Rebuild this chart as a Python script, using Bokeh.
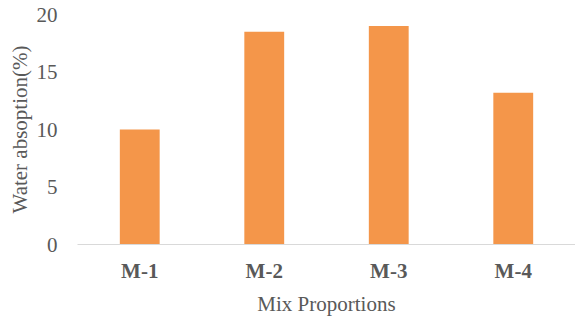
from bokeh.plotting import figure
from bokeh.models import Range1d, FactorRange, FixedTicker, ColumnDataSource
from bokeh.embed import file_html
from bokeh.resources import INLINE

categories = ["M-1", "M-2", "M-3", "M-4"]
water_absorption = [10.0, 18.5, 19.0, 13.2]
y_ticks = [0, 5, 10, 15, 20]

FONT = "Liberation Serif"
TEXT = "#595959"

src = ColumnDataSource(dict(cat=categories, val=water_absorption))

p = figure(width=575, height=321, output_backend="svg", toolbar_location=None,
           x_range=FactorRange(*categories, range_padding=0),
           y_range=Range1d(0, 20),
           min_border_left=77, min_border_right=0, min_border_top=14, min_border_bottom=77)

p.vbar(x="cat", top="val", width=0.32, source=src, color="#F4964A", line_color=None)

p.outline_line_color = None
p.xgrid.grid_line_color = None
p.ygrid.grid_line_color = None

p.yaxis.ticker = FixedTicker(ticks=y_ticks)
p.yaxis.axis_line_color = None
p.yaxis.major_tick_line_color = None
p.yaxis.minor_tick_line_color = None
p.yaxis.major_label_standoff = 14
p.yaxis.major_label_text_font = FONT
p.yaxis.major_label_text_font_size = "21px"
p.yaxis.major_label_text_color = TEXT
p.yaxis.axis_label = "Water absoption(%)"
p.yaxis.axis_label_text_font = FONT
p.yaxis.axis_label_text_font_size = "21px"
p.yaxis.axis_label_text_font_style = "normal"
p.yaxis.axis_label_text_color = TEXT
p.yaxis.axis_label_standoff = 2

p.xaxis.axis_line_color = "#D9D9D9"
p.xaxis.axis_line_width = 1
p.xaxis.major_tick_line_color = None
p.xaxis.minor_tick_line_color = None
p.xaxis.major_label_standoff = 8
p.xaxis.major_label_text_font = FONT
p.xaxis.major_label_text_font_size = "21px"
p.xaxis.major_label_text_font_style = "bold"
p.xaxis.major_label_text_color = TEXT
p.xaxis.axis_label = "Mix Proportions"
p.xaxis.axis_label_text_font = FONT
p.xaxis.axis_label_text_font_size = "21px"
p.xaxis.axis_label_text_font_style = "normal"
p.xaxis.axis_label_text_color = TEXT
p.xaxis.axis_label_standoff = 6

open("out.html", "w").write(file_html(p, INLINE))
